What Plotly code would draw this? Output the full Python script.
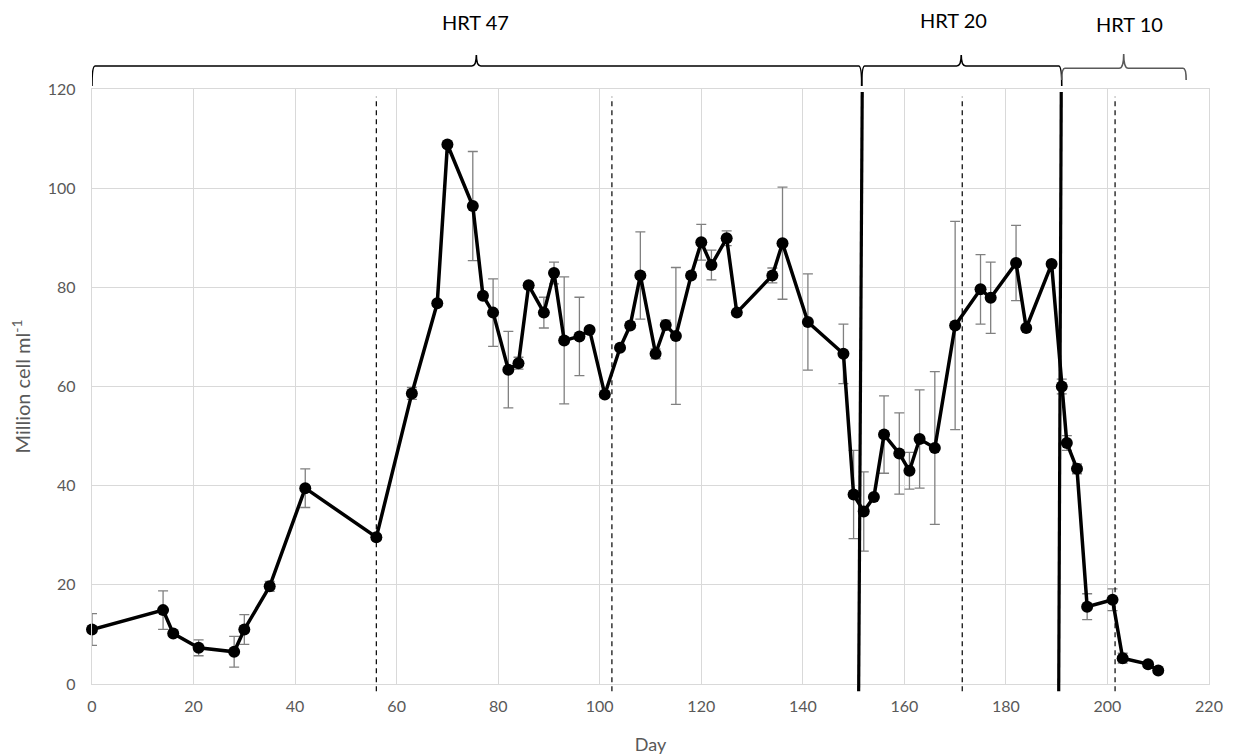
import plotly.graph_objects as go

# ---- data ----
days = [0, 14, 16, 21, 28, 30, 35, 42, 56, 63, 68, 70, 75, 77, 79, 82, 84, 86, 89, 91,
        93, 96, 98, 101, 104, 106, 108, 111, 113, 115, 118, 120, 122, 125, 127, 134, 136,
        141, 148, 150, 152, 154, 156, 159, 161, 163, 166, 170, 175, 177, 182, 184, 189,
        191, 192, 194, 196, 201, 203, 208, 210]
cells = [11.0, 14.9, 10.2, 7.3, 6.5, 11.0, 19.7, 39.5, 29.6, 58.6, 76.8, 108.8, 96.4, 78.3,
         74.9, 63.4, 64.7, 80.4, 74.9, 82.9, 69.3, 70.1, 71.4, 58.4, 67.8, 72.3, 82.4, 66.6,
         72.4, 70.2, 82.4, 89.1, 84.5, 89.9, 74.9, 82.4, 88.9, 73.0, 66.6, 38.2, 34.8, 37.7,
         50.3, 46.5, 43.0, 49.4, 47.6, 72.3, 79.6, 77.9, 84.9, 71.8, 84.7, 60.0, 48.6, 43.4,
         15.6, 17.0, 5.2, 4.0, 2.7]
errors = [3.2, 3.9, 0.5, 1.6, 3.1, 3.0, 1.0, 3.9, 0.5, 1.2, 0.5, 0.5, 11.0, 0.5, 6.8, 7.7,
          1.2, 0.5, 3.1, 2.2, 12.8, 7.9, 0.5, 0.5, 0.5, 0.5, 8.8, 1.0, 1.0, 13.8, 0.5, 3.6,
          3.0, 1.5, 0.5, 1.5, 11.3, 9.7, 6.0, 8.9, 8.0, 0.5, 7.8, 8.2, 3.7, 9.9, 15.4, 21.0,
          7.0, 7.2, 7.6, 0.5, 0.5, 1.5, 1.5, 1.0, 2.6, 2.2, 1.0, 0.5, 0.5]

x_ticks = [0, 20, 40, 60, 80, 100, 120, 140, 160, 180, 200, 220]
y_ticks = [0, 20, 40, 60, 80, 100, 120]

dashed_days = [56, 102.4, 171.4, 201.5]
solid_bottom_days = [151.0, 190.4]
solid_top_days = [151.7, 190.9]

phase_labels = ["HRT 47", "HRT 20", "HRT 10"]
phase_starts = [0, 151.6, 191.0]
phase_ends = [151.6, 191.0, 215.5]
phase_tips = [75.7, 171.2, 203.2]
label_x = [75.6, 169.7, 204.4]

# ---- figure ----
fig = go.Figure()
fig.add_trace(go.Scatter(
    x=days, y=cells, mode="lines+markers",
    line=dict(color="black", width=3.5),
    marker=dict(color="black", size=12),
    error_y=dict(type="data", array=errors, visible=True,
                 color="#808080", thickness=1.3, width=5),
    showlegend=False, cliponaxis=False,
))

shapes = []
for d in dashed_days:
    shapes.append(dict(type="line", xref="x", yref="paper", x0=d, x1=d,
                       y0=-0.012, y1=0.987, layer="above",
                       line=dict(color="black", width=1.2, dash="5px,4px")))
for b, t in zip(solid_bottom_days, solid_top_days):
    shapes.append(dict(type="line", xref="x", yref="paper", x0=b, x1=t,
                       y0=-0.012, y1=0.995, layer="above",
                       line=dict(color="black", width=3.2)))

brace_geom = [  # (line y, end y, tip y, colour) in paper coords
    (1.0387, 1.0050, 1.0571, "black"),
    (1.0387, 1.0050, 1.0571, "black"),
    (1.0348, 1.0151, 1.0588, "#595959"),
]
dx, dt = 0.6, 0.9
for (x0, x1, xm), (yl, ye, yt, col) in zip(zip(phase_starts, phase_ends, phase_tips), brace_geom):
    path = (f"M {x0},{ye} Q {x0},{yl} {x0+dx},{yl} L {xm-dt},{yl} "
            f"Q {xm},{yl} {xm},{yt} Q {xm},{yl} {xm+dt},{yl} "
            f"L {x1-dx},{yl} Q {x1},{yl} {x1},{ye}")
    shapes.append(dict(type="path", xref="x", yref="paper", path=path,
                       line=dict(color=col, width=1.6), layer="above"))

annotations = []
for lab, lx, ly in zip(phase_labels, label_x, [1.1126, 1.116, 1.109]):
    annotations.append(dict(text=lab, x=lx, y=ly, xref="x", yref="paper",
                            showarrow=False, xanchor="center", yanchor="middle",
                            font=dict(family="Lato", size=20, color="black")))

# the page body has an 8px margin, so the figure is laid out 8px smaller
fig.update_layout(
    width=1225, height=748,
    margin=dict(l=84, r=24, t=81, b=72, autoexpand=False),
    paper_bgcolor="white", plot_bgcolor="white",
    font=dict(family="Lato", size=16, color="#595959"),
    shapes=shapes, annotations=annotations,
    xaxis=dict(range=[0, 220], tickvals=x_ticks, showgrid=True, gridcolor="#d9d9d9",
               gridwidth=1, showline=True, linecolor="#d9d9d9", linewidth=1.3, mirror=True,
               zeroline=False, ticks="", ticklabelstandoff=8, automargin=False,
               title=dict(text="Day", font=dict(size=18, color="#595959"), standoff=24)),
    yaxis=dict(range=[0, 120], tickvals=y_ticks, showgrid=True, gridcolor="#d9d9d9",
               gridwidth=1, showline=True, linecolor="#d9d9d9", linewidth=1.3, mirror=True,
               zeroline=False, ticks="", ticklabelstandoff=12, automargin=False,
               title=dict(text="Million cell ml<sup>-1</sup>",
                          font=dict(size=20, color="#595959"), standoff=14)),
)

fig.write_html("out.html")
